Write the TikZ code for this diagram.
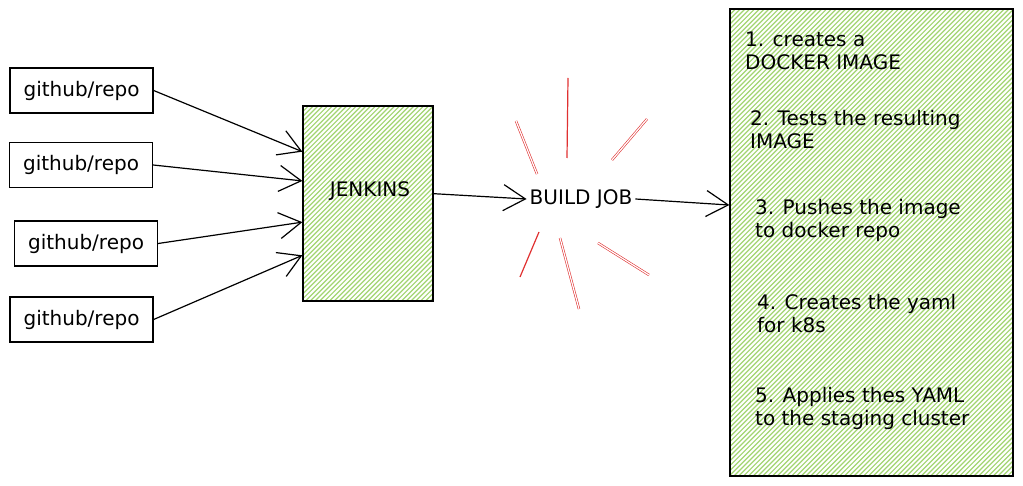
\documentclass[tikz,border=0pt]{standalone}
\usepackage{fontspec}
\setmainfont{DejaVu Sans}
\usetikzlibrary{arrows.meta,calc}
\definecolor{hatch}{HTML}{A2D571}
\definecolor{burst}{HTML}{E03131}
\begin{document}
\begin{tikzpicture}[x=1pt,y=-1pt,
  every node/.style={font=\fontsize{20}{24}\selectfont},
  repobox/.style={draw=black,line width=1.3pt,minimum width=143pt,minimum height=45pt,inner sep=0pt},
  frame/.style={draw=black,line width=1.3pt},
  hatchline/.style={draw=hatch,line width=1.2pt},
  conn/.style={draw=black,line width=1.2pt,-{Straight Barb[length=22pt,width=26pt,line width=1.2pt]}},
  ray/.style={draw=burst,line width=0.6pt,double=white,double distance=1.2pt},
  ray1/.style={draw=burst,line width=1.2pt},
  item/.style={anchor=north west,align=left,inner sep=0pt,font=\fontsize{20}{23}\selectfont}
]
\useasboundingbox (0,0) rectangle (1023,486);
% hatching
\begin{scope}
\clip (303,106) rectangle (433,301);
\foreach \c in {400,404.8,...,740} {\draw[hatchline] (\c-310,310) -- (\c-100,100);}
\end{scope}
\begin{scope}
\clip (730,9) rectangle (1013,476);
\foreach \c in {730,734.8,...,1495} {\draw[hatchline] (\c-480,480) -- (\c-5,5);}
\end{scope}
% boxes
\node[repobox] (g1) at (81.5,90.5) {github/repo};
\node[repobox] (g2) at (81,165) {github/repo};
\node[repobox] (g3) at (86,243.5) {github/repo};
\node[repobox] (g4) at (81.5,319.5) {github/repo};
\node[frame,minimum width=130pt,minimum height=195pt,inner sep=0pt] (jenk) at (368,203.5) {};
\node (jt) at (370,191) {JENKINS};
\node[frame,minimum width=283pt,minimum height=467pt,inner sep=0pt] (big) at (871.5,242.5) {};
\node[inner sep=3pt] (bj) at (581,199) {BUILD JOB};
% connectors
\draw[conn] (g1.east) -- ($(jenk.north west)!0.236!(jenk.south west)$);
\draw[conn] (g2.east) -- ($(jenk.north west)!0.385!(jenk.south west)$);
\draw[conn] (g3.east) -- ($(jenk.north west)!0.595!(jenk.south west)$);
\draw[conn] (g4.east) -- ($(jenk.north west)!0.764!(jenk.south west)$);
\draw[conn] ($(jenk.north east)!0.45!(jenk.south east)$) -- (bj.west);
\draw[conn] (bj.east) -- ($(big.north west)!0.42!(big.south west)$);
% burst
\draw[ray1] (568,78) -- (567,158);
\draw[ray] (516,121) -- (537,174);
\draw[ray] (647,119) -- (612,160);
\draw[ray1] (539,232) -- (520,277);
\draw[ray] (560,238) -- (579,309);
\draw[ray] (598,243) -- (649,275);
% list
\node[item] (i1) at (745,32) {1. creates a\\DOCKER IMAGE};
\node[item] (i2) at (750,110) {2. Tests the resulting\\IMAGE};
\node[item] (i3) at (755,199) {3. Pushes the image\\to docker repo};
\node[item] (i4) at (757,294) {4. Creates the yaml\\for k8s};
\node[item] (i5) at (755,387) {5. Applies thes YAML\\to the staging cluster};
\end{tikzpicture}
\end{document}
